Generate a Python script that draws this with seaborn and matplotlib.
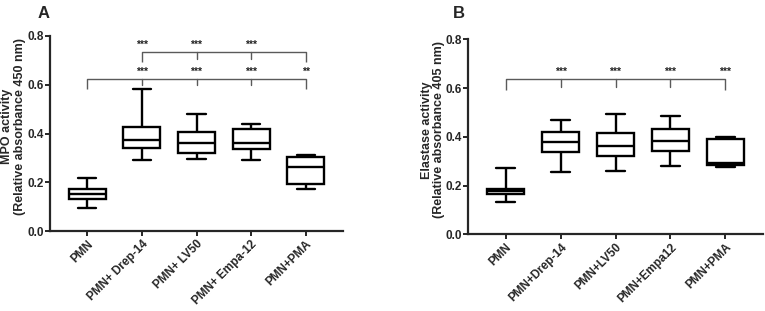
import matplotlib
matplotlib.use("Agg")
import matplotlib.pyplot as plt
import numpy as np
import pandas as pd
import seaborn as sns

# ---------------- data ----------------
groups_a = ["PMN", "PMN+ Drep-14", "PMN+ LV50", "PMN+ Empa-12", "PMN+PMA"]
groups_b = ["PMN", "PMN+Drep-14", "PMN+LV50", "PMN+Empa12", "PMN+PMA"]

# five-number summaries: min, Q1, median, Q3, max
mpo_pmn = [0.093, 0.131, 0.152, 0.171, 0.217]
mpo_drep = [0.293, 0.342, 0.373, 0.425, 0.581]
mpo_lv50 = [0.295, 0.320, 0.362, 0.405, 0.479]
mpo_empa = [0.291, 0.336, 0.362, 0.418, 0.439]
mpo_pma = [0.172, 0.194, 0.264, 0.305, 0.310]

ela_pmn = [0.134, 0.165, 0.178, 0.187, 0.271]
ela_drep = [0.254, 0.338, 0.380, 0.421, 0.470]
ela_lv50 = [0.258, 0.321, 0.364, 0.417, 0.495]
ela_empa = [0.279, 0.343, 0.381, 0.434, 0.485]
ela_pma = [0.276, 0.284, 0.294, 0.391, 0.399]

# significance annotations
sig_a_lower = ["***", "***", "***", "**"]
sig_a_upper = ["***", "***", "***"]
sig_b = ["***", "***", "***", "***"]

ylabel_a = "MPO activity\n(Relative absorbance 450 nm)"
ylabel_b = "Elastase activity\n(Relative absorbance 405 nm)"


def long_df(groups, series):
    rows = []
    for g, vals in zip(groups, series):
        for v in vals:
            rows.append((g, v))
    return pd.DataFrame(rows, columns=["group", "value"])


df_a = long_df(groups_a, [mpo_pmn, mpo_drep, mpo_lv50, mpo_empa, mpo_pma])
df_b = long_df(groups_b, [ela_pmn, ela_drep, ela_lv50, ela_empa, ela_pma])

# ---------------- style ----------------
sns.set_style("ticks")
plt.rcParams["font.family"] = ["Liberation Sans", "DejaVu Sans"]
plt.rcParams["font.weight"] = "bold"

W, H = 765, 311
fig = plt.figure(figsize=(W / 100, H / 100), dpi=100)
ax_a = fig.add_axes([50 / W, 1 - 231 / H, 293 / W, 195 / H])
ax_b = fig.add_axes([468.3 / W, 1 - 234.3 / H, 294.4 / W, 195 / H])

BR_COLOR = "#5a5a5a"


def bracket(ax, x0, x1, y, end_drop, tick_xs, tick_drop):
    ax.plot([x0, x0, x1, x1], [end_drop, y, y, end_drop], color=BR_COLOR, lw=1.0,
            solid_capstyle="butt", clip_on=False)
    for tx in tick_xs:
        ax.plot([tx, tx], [y, tick_drop], color=BR_COLOR, lw=1.0, clip_on=False)


def stars(ax, xs, labels, y):
    for x, s in zip(xs, labels):
        ax.text(x, y, s, ha="center", va="center", fontsize=7.5, fontweight="bold",
                color="#222222")


def draw_panel(ax, df, order, ylabel, label_x):
    sns.boxplot(data=df, x="group", y="value", order=order, whis=(0, 100),
                width=0.68, color="white", linecolor="black", linewidth=1.7,
                ax=ax)
    ax.set_ylim(0, 0.8)
    ax.set_xlim(-0.68, 4.68)
    ax.set_yticks([0.0, 0.2, 0.4, 0.6, 0.8])
    ax.set_yticklabels(["0.0", "0.2", "0.4", "0.6", "0.8"])
    ax.set_xlabel("")
    ax.set_ylabel(ylabel, fontsize=9, fontweight="bold", linespacing=1.02,
                  va="center")
    ax.yaxis.set_label_coords(label_x, 0.535)
    for side in ["top", "right"]:
        ax.spines[side].set_visible(False)
    for side in ["left", "bottom"]:
        ax.spines[side].set_linewidth(1.6)
    ax.tick_params(axis="both", width=1.4, length=3.5, direction="out",
                   labelsize=8.5, pad=1.0)
    ax.tick_params(axis="x", labelsize=8.5, pad=1.5)
    for lab in ax.get_xticklabels():
        lab.set_rotation(45)
        lab.set_ha("right")
        lab.set_rotation_mode("anchor")
        lab.set_fontweight("bold")
    for lab in ax.get_yticklabels():
        lab.set_fontweight("bold")


draw_panel(ax_a, df_a, groups_a, ylabel_a, (13.5 - 50) / 293)
draw_panel(ax_b, df_b, groups_b, ylabel_b, (433 - 468.3) / 294.4)

# Panel A brackets
bracket(ax_a, 0, 4, 0.625, 0.581, [1, 2, 3], 0.600)
stars(ax_a, [1, 2, 3, 4], sig_a_lower, 0.651)
bracket(ax_a, 1, 4, 0.734, 0.692, [2, 3], 0.706)
stars(ax_a, [1, 2, 3], sig_a_upper, 0.764)

# Panel B bracket
bracket(ax_b, 0, 4, 0.636, 0.592, [1, 2, 3], 0.606)
stars(ax_b, [1, 2, 3, 4], sig_b, 0.665)

fig.text(44 / W, 1 - 13 / H, "A", fontsize=12, fontweight="bold",
         ha="center", va="center")
fig.text(459 / W, 1 - 13 / H, "B", fontsize=12, fontweight="bold",
         ha="center", va="center")

fig.savefig("out.png", dpi=100)
